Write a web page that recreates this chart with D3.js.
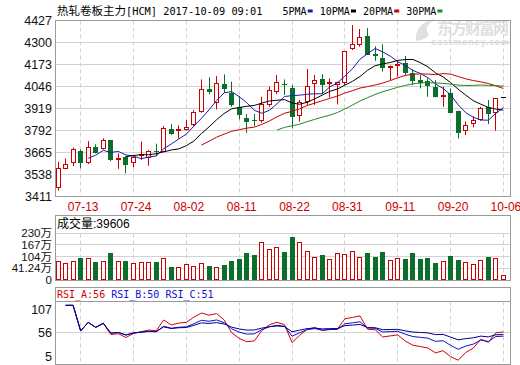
<!DOCTYPE html>
<html>
<head>
<meta charset="utf-8">
<script src="https://cdn.jsdelivr.net/npm/d3@7"></script>
<style>
  html, body { margin: 0; padding: 0; background: #fff; }
  svg { display: block; }
</style>
</head>
<body>
<svg id="chart" width="520" height="365"></svg>
<script>
/* --- data --- */
const dates = [
  "07-10","07-11","07-12","07-13","07-14","07-17","07-18","07-19","07-20","07-21",
  "07-24","07-25","07-26","07-27","07-28","07-31","08-01","08-02","08-03","08-04",
  "08-07","08-08","08-09","08-10","08-11","08-14","08-15","08-16","08-17","08-18",
  "08-21","08-22","08-23","08-24","08-25","08-28","08-29","08-30","08-31","09-01",
  "09-04","09-05","09-06","09-07","09-08","09-11","09-12","09-13","09-14","09-15",
  "09-18","09-19","09-20","09-21","09-22","09-25","09-26","09-27","09-28","10-06"
];
const opens = [
  3459,3565,3600,3673,3600,3692,3684,3732,3628,3636,
  3600,3645,3632,3669,3667,3796,3785,3792,3820,3897,
  4026,3945,4057,4007,3926,3863,3850,3844,3936,4013,
  4055,4037,3873,3956,4056,4087,4060,4052,4062,4258,
  4283,4337,4229,4210,4158,4164,4176,4119,4080,4076,
  4042,3980,4003,3903,3788,3826,3849,3922,3888,3980
];
const highs = [
  3609,3628,3690,3680,3728,3709,3744,3734,3657,3640,
  3640,3725,3675,3713,3815,3826,3818,3849,3907,4084,
  4096,4103,4113,4071,3988,3884,3884,3984,4042,4109,
  4084,4052,3965,4144,4110,4114,4090,4071,4248,4398,
  4375,4380,4275,4287,4164,4187,4219,4142,4109,4090,
  4080,4042,4032,3903,3840,3872,3926,3965,3974,3980
];
const lows = [
  3442,3565,3584,3571,3596,3657,3679,3612,3568,3542,
  3577,3619,3585,3640,3663,3763,3743,3788,3815,3892,
  3999,3911,4007,3926,3853,3776,3815,3834,3926,3999,
  3994,3802,3840,3937,3937,3998,3979,3940,4052,4254,
  4273,4225,4191,4129,4081,4100,4109,4051,4032,3984,
  3980,3926,3892,3743,3763,3807,3845,3826,3788,3980
];
const closes = [
  3571,3594,3680,3603,3696,3661,3732,3621,3632,3592,
  3634,3651,3669,3664,3802,3770,3797,3807,3897,4026,
  4013,4065,4030,3936,3878,3840,3846,3942,4022,4067,
  4051,3869,3956,4048,4081,4052,4067,4071,4248,4287,
  4331,4225,4221,4152,4162,4171,4119,4076,4061,4046,
  3984,3994,3892,3772,3820,3849,3917,3884,3974,3980
];
// volume, unit 万
const volumes = [
  80,71,80,98,95,76,80,125,80,80,
  68,73,73,76,95,47,47,63,53,68,
  53,47,59,80,89,125,112,183,143,153,
  130,210,180,134,100,112,91,121,118,134,
  100,125,100,127,86,95,91,125,91,95,
  71,80,107,86,73,64,86,103,98,3.9606
];
const lastVolume = 39606;

const priceTicks = [3411,3538,3665,3792,3919,4046,4173,4300,4427];
const volTicks = [41.24,104,167,230];
const rsiTicks = [5,56,107];

const maPeriods = [5,10,20,30];
const maColors = ["#1c1ca8","#000000","#cc0000","#1f8a1f"];
const rsiPeriods = [6,12,24];
const rsiNames = ["RSI_A","RSI_B","RSI_C"];
const rsiShown = [56,50,51];
const rsiColors = ["#d40000","#1010d0","#000090"];

const RED = "#cc0000", GREEN = "#0b6e2b", GRID = "#d2d2d2", BORDER = "#9a9a9a";

/* --- helpers --- */
function movingAvg(arr, n) {
  return arr.map((_, i) => i < n - 1 ? null : d3.mean(arr.slice(i - n + 1, i + 1)));
}

function rsi(arr, n) {
  const out = [null];
  let up = 0, dn = 0;
  for (let i = 1; i < arr.length; i++) {
    const ch = arr[i] - arr[i - 1];
    const u = Math.max(ch, 0), d = Math.abs(ch);
    if (i <= n) {
      up += u; dn += d;
      out.push(dn ? up / dn * 100 : 100);
      if (i === n) { up /= n; dn /= n; }
    } else {
      up = (up * (n - 1) + u) / n;
      dn = (dn * (n - 1) + d) / n;
      out.push(dn ? up / dn * 100 : 100);
    }
  }
  return out;
}

const px = v => Math.floor(v) + 0.5;

/* --- layout --- */
const svg = d3.select("#chart");
const L = 55.5, R = 510.5;
const main = { top: 20.5, bottom: 196.5 };
const vol = { top: 215.5, bottom: 280.5 };
const rs = { top: 287.5, bottom: 364.5 };

const x = d3.scaleLinear().domain([0, dates.length - 1]).range([58, 58 + 7.55 * (dates.length - 1)]);
const y = d3.scaleLinear().domain([3411, 4427]).range([196, 20]);
const vy = d3.scaleLinear().domain([0, 230]).range([276, 233]);
const ry = d3.scaleLinear().domain([5, 107]).range([364, 301]);

const tickIdx = d3.range(dates.length).filter(i => i % 7 === 3);

const bars = dates.map((d, i) => ({
  i, date: d, o: opens[i], h: highs[i], l: lows[i], c: closes[i], v: volumes[i]
}));

/* --- watermark --- */
const wm = svg.append("g").attr("fill", "#e0e0e0");
wm.append("path").attr("d", "M416,41 Q414,24 436,18 Q423,27 428,33 Q431,38 416,41 Z");
wm.append("text").attr("x", 437).attr("y", 34)
  .attr("font-family", "Noto Sans CJK SC").attr("font-weight", "bold").attr("font-size", 16)
  .attr("textLength", 72).text("东方财富网");
wm.append("text").attr("x", 431).attr("y", 45)
  .attr("font-family", "DejaVu Sans").attr("font-weight", "bold").attr("font-size", 8)
  .attr("textLength", 78).text("eastmoney.com");

/* --- header --- */
svg.append("text").attr("x", 57).attr("y", 14.5)
  .attr("font-family", "Noto Sans CJK SC").attr("font-size", 11.5).attr("fill", "#000")
  .text("热轧卷板主力")
  .append("tspan").attr("font-family", "DejaVu Sans Mono").attr("font-size", 10.3)
  .text("[HCM] 2017-10-09 09:01");

const legend = svg.append("g").attr("font-family", "DejaVu Sans Mono").attr("font-size", 10);
let lx = 282.5;
maPeriods.forEach((p, k) => {
  const t = `${p}PMA`;
  legend.append("text").attr("x", lx).attr("y", 14.5).attr("fill", "#000").text(t);
  lx += t.length * 6.05 + 1;
  legend.append("rect").attr("x", lx).attr("y", 9.5).attr("width", 5).attr("height", 3).attr("fill", maColors[k]);
  lx += 12;
});

/* --- grids --- */
const grid = svg.append("g");
priceTicks.slice(1, -1).forEach(t => {
  grid.append("line").attr("x1", L).attr("x2", R).attr("y1", px(y(t))).attr("y2", px(y(t)))
    .attr("stroke", GRID);
});
volTicks.forEach(t => {
  grid.append("line").attr("x1", L).attr("x2", R).attr("y1", px(vy(t))).attr("y2", px(vy(t)))
    .attr("stroke", GRID);
});
rsiTicks.slice(1).forEach(t => {
  grid.append("line").attr("x1", L).attr("x2", R).attr("y1", px(ry(t))).attr("y2", px(ry(t)))
    .attr("stroke", t === 107 ? BORDER : GRID);
});
tickIdx.forEach(i => {
  const gx = px(x(i));
  [[main.top, main.bottom], [px(vy(230)), vol.bottom], [px(ry(107)), rs.bottom]].forEach(([a, b]) => {
    grid.append("line").attr("x1", gx).attr("x2", gx).attr("y1", a).attr("y2", b)
      .attr("stroke", GRID).attr("stroke-dasharray", "4,3");
  });
});

/* --- candles --- */
const cg = svg.append("g");
bars.forEach(b => {
  const cx = px(x(b.i));
  const color = b.c > b.o ? RED : (b.c < b.o ? GREEN : "#000");
  const top = Math.round(y(Math.max(b.o, b.c)));
  const bot = Math.round(y(Math.min(b.o, b.c)));
  if (b.h > b.l) {
    cg.append("line").attr("x1", cx).attr("x2", cx)
      .attr("y1", y(b.h)).attr("y2", y(b.l)).attr("stroke", color);
  }
  if (b.c > b.o) {
    cg.append("rect").attr("x", cx - 2).attr("y", top + 0.5)
      .attr("width", 4).attr("height", Math.max(bot - top - 1, 1))
      .attr("fill", "#fff").attr("stroke", color);
  } else {
    cg.append("rect").attr("x", cx - 2.5).attr("y", top)
      .attr("width", 5).attr("height", Math.max(bot - top, 1)).attr("fill", color);
  }
});

/* --- moving averages --- */
const line = d3.line().defined(d => d[1] != null).x(d => x(d[0])).y(d => y(d[1]));
maPeriods.forEach((p, k) => {
  const ma = movingAvg(closes, p).map((v, i) => [i, v]);
  svg.append("path").attr("d", line(ma)).attr("fill", "none")
    .attr("stroke", maColors[k]).attr("stroke-width", 1);
});

/* --- volume --- */
const vg = svg.append("g");
bars.forEach(b => {
  const cx = px(x(b.i));
  const top = Math.round(vy(b.v));
  if (b.c >= b.o) {
    vg.append("rect").attr("x", cx - 2).attr("y", top + 0.5)
      .attr("width", 4).attr("height", 280 - top - 1)
      .attr("fill", "#fff").attr("stroke", RED);
  } else {
    vg.append("rect").attr("x", cx - 2.5).attr("y", top)
      .attr("width", 5).attr("height", 281 - top).attr("fill", GREEN);
  }
});

/* --- RSI --- */
const rline = d3.line().defined(d => d[1] != null).x(d => x(d[0])).y(d => ry(d[1]));
rsiPeriods.forEach((p, k) => {
  const vals = rsi(closes, p).map((v, i) => [i, v]);
  svg.append("path").attr("d", rline(vals)).attr("fill", "none")
    .attr("stroke", rsiColors[k]).attr("stroke-width", 1);
});

/* --- frames --- */
[[main.top, main.bottom], [vol.top, vol.bottom], [rs.top, rs.bottom]].forEach(([a, b]) => {
  svg.append("rect").attr("x", L).attr("y", a).attr("width", R - L).attr("height", b - a)
    .attr("fill", "none").attr("stroke", BORDER);
});

/* --- axis labels --- */
const axg = svg.append("g").attr("font-family", "Liberation Sans, Noto Sans CJK SC")
  .attr("font-size", 12.5).attr("fill", "#111").attr("text-anchor", "end");
priceTicks.forEach(t => {
  axg.append("text").attr("x", 52).attr("y", y(t)).attr("dy", "0.36em").text(t);
});
const vax = axg.append("g").attr("font-size", 11.5);
volTicks.forEach(t => {
  vax.append("text").attr("x", 52).attr("y", vy(t)).attr("dy", "0.36em").text(`${t}万`);
});
vax.append("text").attr("x", 52).attr("y", 280).attr("dy", "0.36em").text(0);
rsiTicks.forEach(t => {
  const yy = Math.min(Math.max(ry(t), 309), 356);
  axg.append("text").attr("x", 52).attr("y", yy).attr("dy", "0.36em").text(t);
});

svg.append("g").attr("font-family", "Liberation Sans").attr("font-size", 12)
  .attr("fill", RED).attr("text-anchor", "middle")
  .selectAll("text").data(tickIdx).join("text")
  .attr("x", i => x(i) + 2.5).attr("y", 211).text(i => dates[i]);

/* --- panel legends --- */
svg.append("text").attr("x", 57).attr("y", 227.5)
  .attr("font-family", "Noto Sans CJK SC").attr("font-size", 12).attr("fill", "#000")
  .text("成交量")
  .append("tspan").attr("font-family", "Liberation Sans").text(`:${lastVolume}`);

const rl = svg.append("text").attr("x", 57).attr("y", 297.5)
  .attr("font-family", "DejaVu Sans Mono").attr("font-size", 10);
rsiNames.forEach((n, k) => {
  rl.append("tspan").attr("fill", rsiColors[k] === "#000090" ? "#1010d0" : rsiColors[k])
    .text(`${n}:${rsiShown[k]}` + (k < rsiNames.length - 1 ? " " : ""));
});
</script>
</body>
</html>
